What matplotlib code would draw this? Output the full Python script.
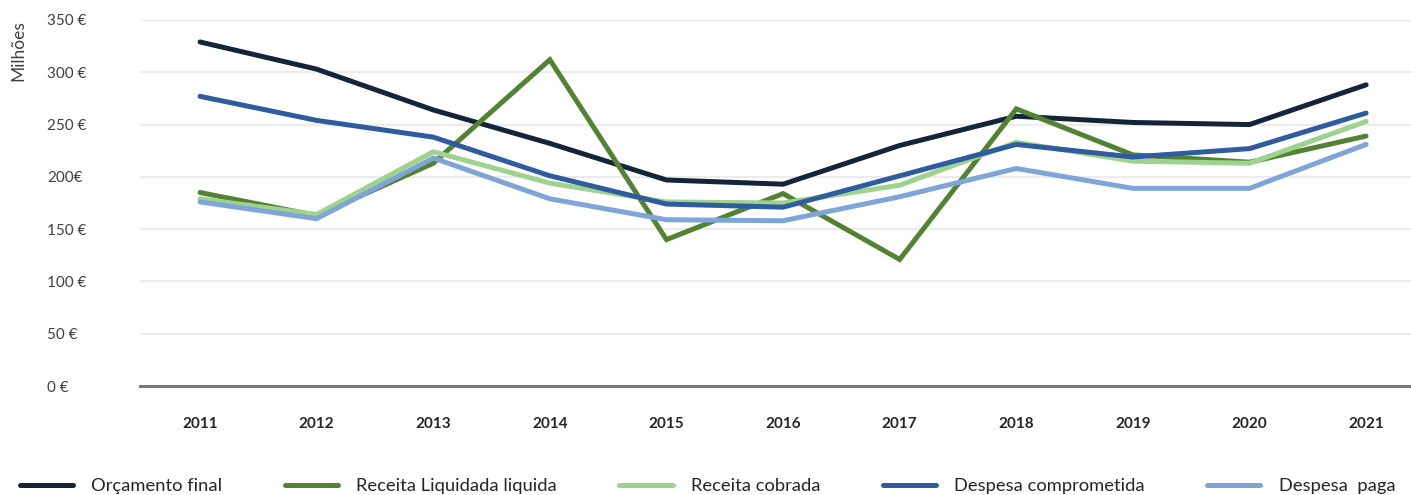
import matplotlib.pyplot as plt
import numpy as np

plt.rcParams['font.family'] = ['Lato', 'DejaVu Sans']

anos = ['2011', '2012', '2013', '2014', '2015', '2016', '2017', '2018', '2019', '2020', '2021']

# valores em milhões de euros
orcamento_final = [329, 303, 264, 232, 197, 193, 230, 258, 252, 250, 288]
receita_liquidada = [185, 163, 213, 312, 140, 184, 121, 265, 221, 214, 239]
receita_cobrada = [179, 164, 224, 194, 176, 175, 192, 233, 215, 213, 253]
despesa_comprometida = [277, 254, 238, 201, 174, 171, 201, 231, 219, 227, 261]
despesa_paga = [176, 160, 218, 179, 159, 158, 181, 208, 189, 189, 231]

y_ticks = [0, 50, 100, 150, 200, 250, 300, 350]
y_labels = ['0 €', '50 €', '100 €', '150 €', '200€', '250 €', '300 €', '350 €']

series = [
    ('Orçamento final', orcamento_final, '#14253a'),
    ('Receita Liquidada liquida', receita_liquidada, '#548235'),
    ('Receita cobrada', receita_cobrada, '#9fd28f'),
    ('Despesa comprometida', despesa_comprometida, '#2f5c9e'),
    ('Despesa  paga', despesa_paga, '#7fa5d7'),
]

fig = plt.figure(figsize=(14.11, 4.95), dpi=100)
ax = fig.add_axes([140 / 1411, 1 - 386 / 495, 1 - 140 / 1411, (386 - 20) / 495])

x = np.arange(len(anos))
for nome, valores, cor in series:
    ax.plot(x, valores, color=cor, lw=3.6, label=nome, solid_capstyle='round',
            solid_joinstyle='miter', clip_on=False, zorder=3)

ax.set_xlim(-0.515, 10.385)
ax.set_ylim(0, 350)
ax.set_yticks(y_ticks)
ax.set_yticklabels(y_labels, ha='left', fontsize=11, color='#404040')
ax.tick_params(axis='y', length=0, pad=67)
ax.set_xticks(x)
ax.set_xticklabels(anos, fontsize=11, fontweight='bold', color='#262626')
ax.tick_params(axis='x', length=0, pad=22)

ax.grid(axis='y', color='#ececec', lw=1.6)
ax.set_axisbelow(True)
for s in ['top', 'right', 'left']:
    ax.spines[s].set_visible(False)
ax.spines['bottom'].set_color('#7a7a7a')
ax.spines['bottom'].set_linewidth(2.2)
ax.spines['bottom'].set_zorder(4)

fig.text(18 / 1411, 1 - 51 / 495, 'Milhões', rotation=90, ha='center', va='center',
         fontsize=12.5, color='#404040')

fig.legend(loc='center left', bbox_to_anchor=(20 / 1411, 9 / 495), ncol=5, frameon=False,
           fontsize=13.2, handlelength=2.9, handletextpad=1.0, columnspacing=3.4,
           borderpad=0, borderaxespad=0, labelcolor='#262626')

fig.savefig('out.png', dpi=100)
